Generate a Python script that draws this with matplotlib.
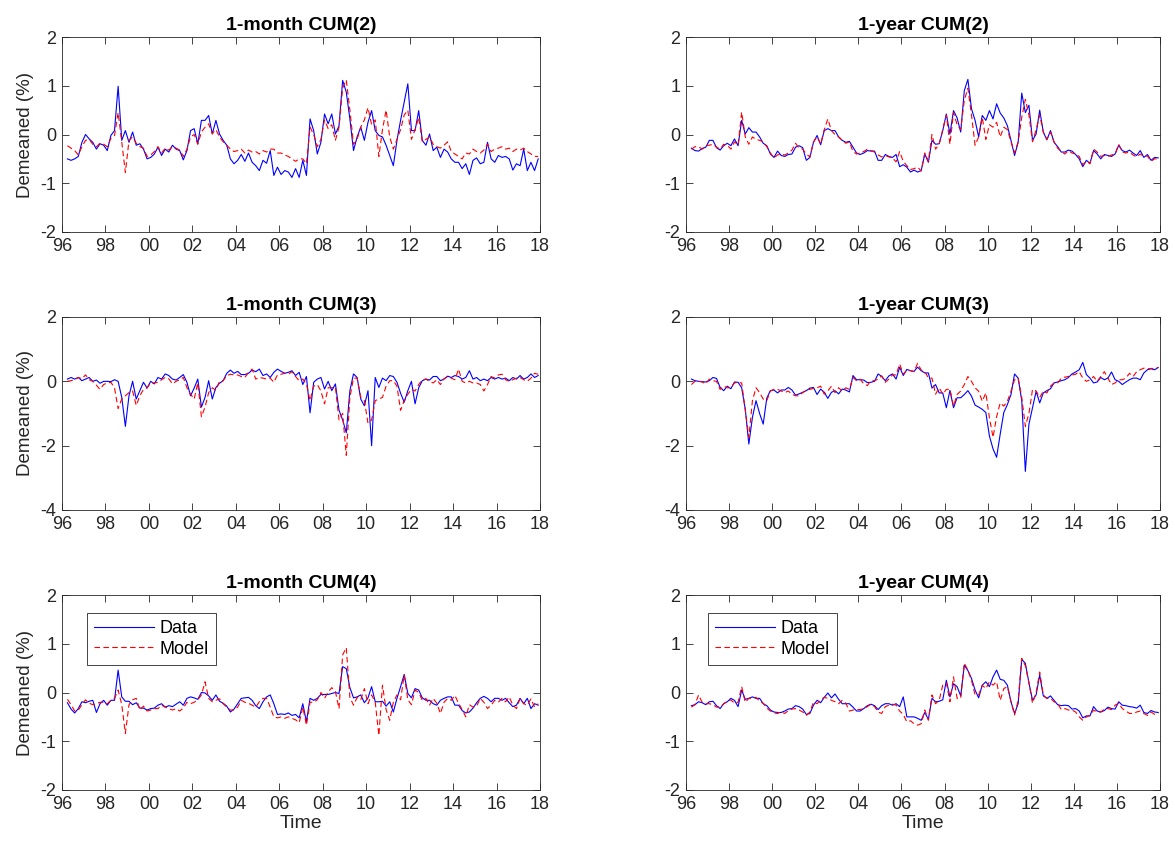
import matplotlib.pyplot as plt
import numpy as np

plt.rcParams['font.family'] = ['Liberation Sans', 'DejaVu Sans']
plt.rcParams['axes.unicode_minus'] = False

# bi-monthly observations, first one in spring 1996
start = 1996.25
step = 1 / 6

# 1-month CUM(2)
m2_data = [
    -0.5, -0.53, -0.5, -0.45, -0.16,
    0.0, -0.09, -0.16, -0.3, -0.19, -0.22,
    -0.33, -0.02, 0.08, 0.99, -0.12, 0.08,
    -0.16, 0.05, -0.22, -0.19, -0.3, -0.5,
    -0.47, -0.4, -0.26, -0.43, -0.3, -0.36,
    -0.22, -0.3, -0.33, -0.52, -0.33, 0.08,
    0.12, -0.19, 0.29, 0.29, 0.39, 0.01,
    0.29, 0.01, -0.12, -0.22, -0.5, -0.6,
    -0.53, -0.41, -0.55, -0.38, -0.57, -0.64,
    -0.74, -0.53, -0.59, -0.33, -0.84, -0.67,
    -0.82, -0.74, -0.77, -0.88, -0.7, -0.88,
    -0.53, -0.84, 0.32, 0.08, -0.4, -0.16,
    0.42, 0.22, 0.42, 0.01, 0.18, 1.11,
    0.87, 0.32, -0.33, -0.05, 0.15, -0.12,
    0.25, 0.49, 0.08, -0.02, -0.05, -0.22,
    -0.43, -0.64, -0.12, 0.29, 0.66, 1.04,
    0.08, 0.08, 0.49, -0.12, -0.22, 0.01,
    -0.33, -0.26, -0.47, -0.3, -0.36, -0.5,
    -0.57, -0.57, -0.7, -0.6, -0.82, -0.53,
    -0.48, -0.6, -0.57, -0.16, -0.5, -0.57,
    -0.43, -0.47, -0.45, -0.5, -0.73, -0.6,
    -0.64, -0.3, -0.74, -0.57, -0.74, -0.5,
]
m2_model = [
    -0.23, -0.28, -0.33, -0.42, -0.25,
    -0.12, -0.1, -0.2, -0.25, -0.18, -0.2,
    -0.25, -0.08, -0.02, 0.45, -0.15, -0.78,
    -0.12, -0.05, -0.18, -0.25, -0.28, -0.45,
    -0.42, -0.35, -0.25, -0.38, -0.28, -0.32,
    -0.25, -0.28, -0.32, -0.45, -0.3, -0.05,
    0.0, -0.2, 0.05, 0.15, 0.22, 0.02,
    0.1, -0.05, -0.15, -0.22, -0.3, -0.35,
    -0.33, -0.3, -0.38, -0.32, -0.36, -0.35,
    -0.4, -0.33, -0.36, -0.3, -0.3, -0.38,
    -0.38, -0.42, -0.45, -0.5, -0.55, -0.5,
    -0.5, -0.6, 0.15, 0.0, -0.25, -0.1,
    0.3, 0.12, 0.2, -0.12, 0.15, 0.95,
    1.12, 0.5, -0.2, -0.1, 0.15, 0.3,
    0.55, 0.2, 0.3, -0.45, 0.1, 0.5,
    -0.05, -0.3, -0.1, 0.1, 0.4, 0.5,
    -0.1, 0.1, 0.35, -0.15, -0.1, -0.05,
    -0.2, -0.25, -0.28, -0.22, -0.15, -0.35,
    -0.4, -0.45, -0.5, -0.38, -0.4, -0.3,
    -0.35, -0.38, -0.32, -0.2, -0.35, -0.3,
    -0.28, -0.25, -0.3, -0.28, -0.35, -0.3,
    -0.32, -0.28, -0.35, -0.4, -0.45, -0.45,
]

# 1-year CUM(2)
y2_data = [
    -0.28, -0.33, -0.34, -0.29, -0.26,
    -0.12, -0.12, -0.27, -0.32, -0.23, -0.18,
    -0.23, -0.09, -0.23, 0.29, 0.01, 0.14,
    0.05, 0.05, -0.05, -0.18, -0.23, -0.4,
    -0.47, -0.34, -0.43, -0.45, -0.41, -0.4,
    -0.26, -0.23, -0.27, -0.53, -0.47, -0.16,
    -0.02, -0.21, 0.08, 0.12, 0.08, 0.08,
    -0.05, -0.12, -0.16, -0.14, -0.26, -0.38,
    -0.41, -0.38, -0.33, -0.34, -0.34, -0.53,
    -0.53, -0.41, -0.45, -0.47, -0.41, -0.66,
    -0.62, -0.67, -0.77, -0.73, -0.77, -0.74,
    -0.4, -0.57, -0.12, -0.2, -0.19, 0.08,
    0.42, 0.01, 0.49, 0.34, 0.05, 0.9,
    1.13, 0.53, 0.29, -0.05, 0.39, 0.29,
    0.49, 0.32, 0.63, 0.44, 0.34, 0.18,
    -0.12, -0.43, -0.16, 0.85, 0.45, 0.6,
    -0.12, 0.01, 0.5, 0.05, -0.11, 0.08,
    -0.16, -0.25, -0.36, -0.36, -0.32, -0.34,
    -0.41, -0.5, -0.66, -0.53, -0.59, -0.33,
    -0.4, -0.5, -0.41, -0.43, -0.45, -0.4,
    -0.22, -0.33, -0.36, -0.32, -0.38, -0.43,
    -0.33, -0.47, -0.41, -0.53, -0.47, -0.48,
]
y2_model = [
    -0.3, -0.25, -0.25, -0.3, -0.23,
    -0.22, -0.2, -0.26, -0.3, -0.2, -0.22,
    -0.3, -0.15, -0.22, 0.46, -0.05, -0.2,
    -0.05, -0.1, -0.12, -0.15, -0.25, -0.38,
    -0.48, -0.42, -0.4, -0.42, -0.38, -0.32,
    -0.18, -0.28, -0.3, -0.4, -0.46, -0.15,
    -0.05, -0.2, 0.1, 0.32, 0.08, 0.0,
    -0.05, -0.12, -0.18, -0.15, -0.35, -0.4,
    -0.38, -0.35, -0.3, -0.33, -0.36, -0.42,
    -0.46, -0.43, -0.46, -0.48, -0.56, -0.35,
    -0.55, -0.64, -0.72, -0.7, -0.67, -0.75,
    -0.38, -0.55, 0.0, -0.3, -0.2, 0.1,
    0.4, -0.2, 0.45, 0.2, 0.1, 0.7,
    0.95, 0.4, -0.22, -0.05, 0.35, -0.1,
    0.2, 0.15, 0.25, -0.05, 0.15, 0.1,
    -0.15, -0.38, -0.15, 0.35, 0.72, 0.4,
    -0.15, 0.1, 0.4, 0.05, -0.1, 0.05,
    -0.15, -0.28, -0.35, -0.4, -0.33, -0.38,
    -0.4, -0.45, -0.62, -0.55, -0.6, -0.3,
    -0.36, -0.45, -0.43, -0.45, -0.42, -0.4,
    -0.2, -0.36, -0.38, -0.36, -0.42, -0.46,
    -0.4, -0.45, -0.44, -0.55, -0.5, -0.5,
]

# 1-month CUM(3)
m3_data = [
    0.07, 0.12, 0.07, 0.12, 0.02,
    0.07, 0.12, 0.0, 0.04, -0.06, 0.0,
    0.0, -0.01, 0.05, 0.0, -0.5, -1.4,
    -0.45, 0.0, -0.55, -0.29, -0.03, -0.21,
    0.0, -0.08, 0.12, 0.07, 0.23, 0.18,
    0.07, 0.04, 0.12, 0.21, -0.03, -0.45,
    -0.21, 0.07, -0.8, -0.5, 0.02, -0.55,
    -0.19, -0.06, 0.02, 0.25, 0.35, 0.25,
    0.31, 0.21, 0.21, 0.25, 0.35, 0.3,
    0.38, 0.18, 0.23, 0.12, 0.28, 0.38,
    0.31, 0.25, 0.28, 0.33, 0.18, 0.28,
    -0.1, 0.15, -0.98, -0.03, 0.07, 0.12,
    -0.24, 0.0, -0.29, -0.08, -0.9, -1.2,
    -1.6, -0.29, 0.23, 0.12, -0.55, -0.76,
    -0.29, -2.0, 0.12, -0.19, 0.1, 0.02,
    0.18, 0.15, -0.03, -0.37, -0.65, -0.29,
    0.0, -0.7, -0.2, 0.02, 0.07, 0.04,
    0.15, 0.15, 0.02, 0.07, 0.16, 0.12,
    0.18, 0.15, 0.07, 0.12, 0.33, 0.07,
    0.12, 0.02, 0.07, 0.02, 0.12, 0.07,
    0.12, 0.07, 0.1, 0.02, 0.12, 0.07,
    0.18, 0.07, 0.12, 0.23, 0.12, 0.18,
]
m3_model = [
    0.0, 0.02, 0.05, 0.12, 0.08,
    0.2, 0.05, 0.0, -0.12, -0.25, -0.1,
    -0.05, -0.03, -0.2, -0.85, -0.55, -0.45,
    -0.35, -0.3, -0.75, -0.45, -0.25, -0.2,
    -0.05, -0.05, -0.03, 0.05, 0.12, 0.08,
    -0.08, 0.0, 0.05, 0.12, -0.2, -0.4,
    -0.55, -0.05, -1.1, -0.8, -0.35, -0.2,
    -0.28, 0.0, 0.02, 0.18, 0.22, 0.2,
    0.2, 0.15, 0.12, 0.28, 0.38, 0.07,
    0.12, 0.1, 0.07, 0.1, -0.03, 0.2,
    0.22, 0.25, 0.22, 0.3, 0.15, 0.02,
    0.07, -0.08, -0.6, -0.15, -0.1, -0.3,
    -0.7, -0.2, -0.2, -0.18, -1.2, -1.0,
    -2.3, -0.5, 0.1, 0.1, -0.5, -0.6,
    -1.3, -1.2, -0.6, -0.55, -0.5, -0.15,
    0.02, 0.02, -0.15, -0.9, -0.6, -0.4,
    -0.25, -0.3, -0.1, 0.05, 0.07, 0.0,
    -0.05, 0.05, -0.1, 0.08, 0.15, 0.1,
    0.05, 0.38, 0.0, -0.05, 0.0, -0.05,
    -0.05, -0.1, -0.3, -0.1, 0.15, 0.1,
    0.2, 0.22, 0.05, 0.0, 0.05, 0.1,
    0.12, 0.05, 0.0, 0.1, 0.25, 0.22,
]

# 1-year CUM(3)
y3_data = [
    0.07, 0.02, 0.0, -0.01, -0.02,
    0.02, 0.12, 0.09, -0.19, -0.29, -0.15,
    -0.23, -0.02, -0.03, -0.2, -0.86, -1.95,
    -1.12, -0.6, -1.0, -1.33, -0.52, -0.29,
    -0.27, -0.36, -0.27, -0.27, -0.19, -0.27,
    -0.43, -0.39, -0.34, -0.29, -0.21, -0.19,
    -0.41, -0.24, -0.34, -0.53, -0.34, -0.29,
    -0.39, -0.24, -0.27, -0.33, 0.18, 0.05,
    0.05, 0.04, -0.04, -0.03, 0.0, 0.23,
    0.15, 0.02, 0.17, 0.23, 0.07, 0.44,
    0.18, 0.37, 0.33, 0.31, 0.44, 0.33,
    0.26, 0.26, -0.21, -0.1, -0.36, -0.36,
    -0.82, -0.28, -0.82, -0.51, -0.51, -0.41,
    -0.29, -0.46, -0.74, -0.8, -0.87, -0.97,
    -1.7, -2.1, -2.36, -1.64, -0.97, -0.72,
    -0.41, 0.23, 0.1, -0.6, -2.8, -1.33,
    -0.82, -0.31, -0.67, -0.36, -0.29, -0.23,
    -0.05, -0.02, 0.02, 0.05, 0.12, 0.23,
    0.29, 0.36, 0.59, 0.21, 0.1, -0.05,
    -0.02, 0.12, 0.05, 0.1, 0.29, 0.05,
    0.0, -0.1, -0.02, 0.05, 0.1, 0.1,
    0.05, 0.26, 0.36, 0.39, 0.36, 0.43,
]
y3_model = [
    -0.1, 0.0, 0.0, -0.02, -0.08,
    0.07, 0.02, 0.0, -0.25, -0.15, -0.2,
    -0.2, -0.05, -0.03, -0.05, -0.9, -1.74,
    -0.6, -0.2, -0.35, -0.55, -0.6, -0.3,
    -0.25, -0.25, -0.3, -0.35, -0.3, -0.4,
    -0.45, -0.45, -0.35, -0.28, -0.25, -0.22,
    -0.2, -0.15, -0.4, -0.3, -0.15, -0.35,
    -0.2, -0.3, -0.2, -0.25, 0.12, 0.02,
    0.07, -0.08, -0.13, 0.02, 0.02, 0.07,
    0.17, -0.03, 0.07, 0.2, 0.2, 0.54,
    0.22, 0.35, 0.33, 0.3, 0.56, 0.35,
    0.31, 0.1, 0.1, -0.4, -0.2, -0.4,
    -0.25, -0.25, -0.77, -0.41, -0.3, -0.1,
    0.15, 0.0, -0.2, -0.31, -0.62, -0.36,
    -1.13, -1.74, -1.1, -0.67, -0.77, -0.62,
    -0.31, 0.05, 0.1, -0.5, -1.4, -1.0,
    -0.25, -0.3, -0.5, -0.31, -0.36, -0.15,
    -0.05, -0.05, 0.1, 0.13, 0.15, 0.2,
    0.22, 0.3, 0.1, 0.0, 0.05, 0.15,
    0.0, 0.15, 0.3, 0.1, -0.1, -0.05,
    0.05, 0.05, 0.1, 0.25, 0.15, 0.3,
    0.36, 0.41, 0.39, 0.4, 0.4, 0.43,
]

# 1-month CUM(4)
m4_data = [
    -0.21, -0.34, -0.42, -0.33, -0.19,
    -0.21, -0.18, -0.16, -0.41, -0.23, -0.16,
    -0.26, -0.16, -0.16, 0.46, -0.09, -0.18,
    -0.18, -0.25, -0.21, -0.32, -0.32, -0.36,
    -0.33, -0.32, -0.26, -0.23, -0.3, -0.27,
    -0.29, -0.24, -0.19, -0.26, -0.12, -0.09,
    -0.11, -0.14, 0.0, -0.01, -0.07, -0.16,
    -0.05, -0.18, -0.22, -0.28, -0.4, -0.34,
    -0.23, -0.12, -0.11, -0.1, -0.16, -0.27,
    -0.33, -0.19, -0.09, -0.05, -0.23, -0.45,
    -0.44, -0.45, -0.42, -0.47, -0.45, -0.52,
    -0.23, -0.6, -0.12, -0.16, -0.12, -0.04,
    -0.04, -0.04, -0.02, 0.0, -0.02, 0.53,
    0.49, 0.1, -0.11, -0.09, -0.05, -0.21,
    -0.11, 0.12, -0.19, -0.19, -0.18, -0.28,
    -0.19, -0.4, -0.12, 0.12, 0.37, -0.02,
    -0.11, 0.08, 0.05, -0.11, -0.16, -0.16,
    -0.23, -0.26, -0.16, -0.12, -0.09, -0.09,
    -0.26, -0.26, -0.37, -0.42, -0.4, -0.32,
    -0.21, -0.12, -0.08, -0.12, -0.19, -0.12,
    -0.12, -0.16, -0.12, -0.21, -0.29, -0.26,
    -0.12, -0.23, -0.12, -0.33, -0.23, -0.26,
]
m4_model = [
    -0.14, -0.25, -0.38, -0.36, -0.25,
    -0.15, -0.22, -0.25, -0.23, -0.2, -0.2,
    -0.23, -0.16, -0.12, 0.05, -0.25, -0.84,
    -0.25, -0.15, -0.12, -0.36, -0.28, -0.38,
    -0.36, -0.33, -0.33, -0.26, -0.3, -0.33,
    -0.36, -0.33, -0.38, -0.32, -0.2, -0.23,
    -0.2, -0.15, -0.05, 0.22, -0.12, -0.19,
    -0.16, -0.13, -0.23, -0.3, -0.36, -0.36,
    -0.3, -0.16, -0.2, -0.22, -0.26, -0.3,
    -0.19, -0.12, -0.12, -0.3, -0.5, -0.52,
    -0.5, -0.53, -0.5, -0.53, -0.56, -0.62,
    -0.3, -0.67, -0.2, -0.2, -0.15, 0.0,
    -0.12, 0.01, 0.1, 0.02, -0.33, 0.77,
    0.92, -0.1, -0.26, -0.1, -0.15, 0.08,
    -0.23, -0.05, -0.2, -0.88, 0.15, -0.35,
    -0.57, -0.2, -0.05, -0.15, 0.36, -0.15,
    -0.25, 0.05, 0.0, -0.16, -0.12, -0.26,
    -0.12, -0.22, -0.43, -0.2, -0.12, -0.16,
    -0.06, -0.22, -0.35, -0.5, -0.25, -0.3,
    -0.28, -0.12, -0.2, -0.33, -0.26, -0.16,
    -0.2, -0.12, -0.19, -0.09, -0.26, -0.33,
    -0.12, -0.23, -0.26, -0.13, -0.3, -0.23,
]

# 1-year CUM(4)
y4_data = [
    -0.27, -0.25, -0.19, -0.21, -0.25,
    -0.19, -0.18, -0.27, -0.33, -0.23, -0.19,
    -0.12, -0.16, -0.29, 0.05, -0.14, -0.12,
    -0.09, -0.12, -0.12, -0.23, -0.27, -0.36,
    -0.4, -0.41, -0.41, -0.38, -0.34, -0.33,
    -0.27, -0.29, -0.34, -0.45, -0.43, -0.26,
    -0.16, -0.21, -0.1, -0.01, -0.11, -0.03,
    -0.14, -0.23, -0.23, -0.23, -0.3, -0.38,
    -0.38, -0.33, -0.27, -0.24, -0.27, -0.35,
    -0.27, -0.23, -0.23, -0.26, -0.23, -0.29,
    -0.09, -0.5, -0.5, -0.5, -0.53, -0.57,
    -0.41, -0.55, -0.12, -0.19, -0.18, -0.15,
    0.25, -0.09, 0.18, 0.12, -0.07, 0.56,
    0.45, 0.29, 0.05, -0.11, 0.15, 0.22,
    0.12, 0.32, 0.46, 0.27, 0.25, 0.15,
    -0.19, -0.43, -0.23, 0.68, 0.6, 0.2,
    -0.16, -0.05, 0.36, -0.07, -0.12, -0.07,
    -0.16, -0.25, -0.27, -0.26, -0.27, -0.34,
    -0.33, -0.38, -0.52, -0.48, -0.48, -0.29,
    -0.38, -0.4, -0.37, -0.3, -0.33, -0.34,
    -0.19, -0.26, -0.27, -0.29, -0.3, -0.32,
    -0.26, -0.41, -0.43, -0.37, -0.4, -0.41,
]
y4_model = [
    -0.3, -0.25, -0.05, -0.2, -0.23,
    -0.23, -0.25, -0.3, -0.3, -0.23, -0.18,
    -0.15, -0.22, -0.2, 0.12, -0.2, -0.12,
    -0.12, -0.1, -0.18, -0.22, -0.32, -0.38,
    -0.42, -0.43, -0.4, -0.43, -0.37, -0.34,
    -0.33, -0.36, -0.4, -0.47, -0.4, -0.2,
    -0.23, -0.15, -0.1, -0.12, -0.16, -0.19,
    -0.23, -0.16, -0.22, -0.38, -0.36, -0.35,
    -0.35, -0.33, -0.29, -0.24, -0.29, -0.4,
    -0.43, -0.29, -0.26, -0.24, -0.26, -0.38,
    -0.45, -0.6, -0.58, -0.64, -0.67, -0.64,
    -0.36, -0.57, -0.05, -0.23, -0.16, 0.15,
    0.2, -0.19, 0.32, -0.12, -0.12, 0.6,
    0.46, 0.25, -0.05, -0.05, 0.15, 0.08,
    0.22, 0.15, 0.22, -0.16, 0.08, 0.12,
    -0.19, -0.46, -0.16, 0.7, 0.55, 0.2,
    -0.22, 0.0, 0.42, -0.05, -0.12, -0.12,
    -0.19, -0.23, -0.35, -0.33, -0.36, -0.36,
    -0.4, -0.5, -0.57, -0.5, -0.47, -0.36,
    -0.4, -0.4, -0.34, -0.33, -0.35, -0.26,
    -0.22, -0.33, -0.38, -0.43, -0.43, -0.4,
    -0.38, -0.43, -0.47, -0.4, -0.45, -0.43,
]

year_ticks = list(range(1996, 2019, 2))
year_labels = ['%02d' % (y % 100) for y in year_ticks]

panels = [
    ('1-month CUM(2)', m2_data, m2_model, [-2, -1, 0, 1, 2]),
    ('1-year CUM(2)', y2_data, y2_model, [-2, -1, 0, 1, 2]),
    ('1-month CUM(3)', m3_data, m3_model, [-4, -2, 0, 2]),
    ('1-year CUM(3)', y3_data, y3_model, [-4, -2, 0, 2]),
    ('1-month CUM(4)', m4_data, m4_model, [-2, -1, 0, 1, 2]),
    ('1-year CUM(4)', y4_data, y4_model, [-2, -1, 0, 1, 2]),
]

W, H = 1175, 848
col_x = [(62, 478), (686, 474)]
row_y = [(37, 195), (317, 193), (595, 195)]
ink = '#262626'

fig = plt.figure(figsize=(W / 100, H / 100), dpi=100)

for i, (title, data, model, yticks) in enumerate(panels):
    r, c = divmod(i, 2)
    x0, w = col_x[c]
    y0, h = row_y[r]
    ax = fig.add_axes([x0 / W, 1 - (y0 + h) / H, w / W, h / H])

    t = start + np.arange(len(data)) * step
    ax.plot(t, data, color='#0000ff', lw=0.8, label='Data')
    t = start + np.arange(len(model)) * step
    ax.plot(t, model, color='#ff0000', lw=0.8, ls=(0, (5, 3)), label='Model')

    ax.set_xlim(1996, 2018)
    ax.set_ylim(yticks[0], yticks[-1])
    ax.set_xticks(year_ticks)
    ax.set_xticklabels(year_labels)
    ax.set_yticks(yticks)
    ax.tick_params(direction='in', top=True, right=True, length=5,
                   width=0.6, labelsize=13, colors=ink, pad=4)
    for s in ax.spines.values():
        s.set_color(ink)
        s.set_linewidth(0.6)

    ax.set_title(title, fontsize=14, fontweight='bold', pad=5)
    if c == 0:
        ax.set_ylabel('Demeaned (%)', fontsize=13.5, color=ink, labelpad=5)
    if r == 2:
        ax.set_xlabel('Time', fontsize=14, color=ink, labelpad=2)
        leg_x = 0.052 if c == 0 else 0.046
        leg = ax.legend(loc='upper left', bbox_to_anchor=(leg_x, 0.908),
                        borderaxespad=0, fontsize=13, handlelength=3.3,
                        handletextpad=0.35, borderpad=0.4, labelspacing=0.2,
                        fancybox=False, framealpha=1, edgecolor=ink)
        leg.get_frame().set_linewidth(0.6)

fig.savefig('out.png', dpi=100)
